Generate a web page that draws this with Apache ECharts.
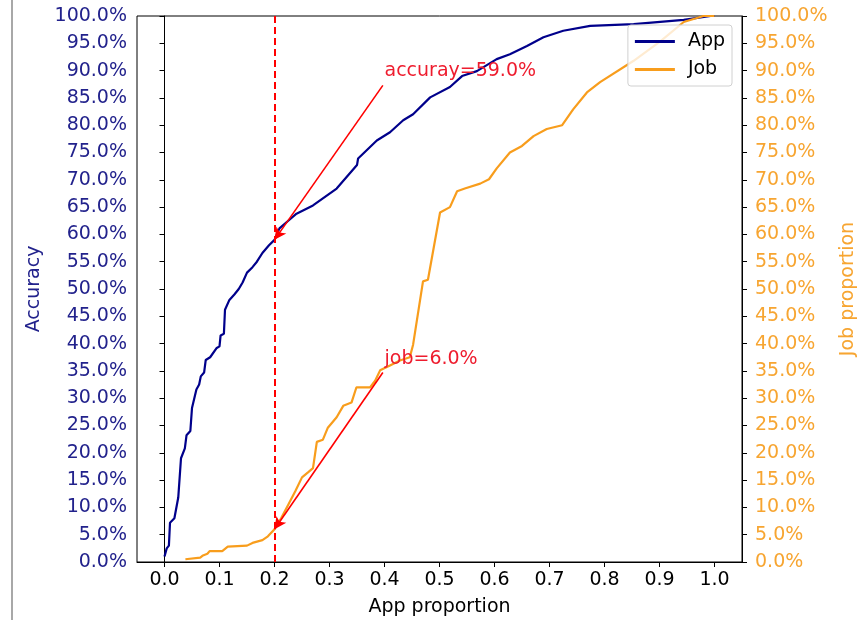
<!DOCTYPE html>
<html>
<head>
<meta charset="utf-8">
<script src="https://cdn.jsdelivr.net/npm/echarts@6/dist/echarts.min.js"></script>
<style>
  html, body { margin: 0; padding: 0; background: #fff; }
  #main { width: 861px; height: 620px; }
</style>
</head>
<body>
<div id="main"></div>
<script>
// App curve: app proportion -> accuracy
var appX = [0.000, 0.004, 0.008, 0.010, 0.018, 0.025, 0.028, 0.030, 0.037, 0.040, 0.047, 0.050, 0.058, 0.063, 0.066, 0.072, 0.075, 0.083, 0.095, 0.100, 0.102, 0.108, 0.110, 0.118, 0.127, 0.135, 0.142, 0.150, 0.160, 0.168, 0.178, 0.190, 0.200, 0.209, 0.225, 0.240, 0.270, 0.313, 0.350, 0.352, 0.386, 0.410, 0.434, 0.452, 0.483, 0.519, 0.541, 0.568, 0.604, 0.628, 0.659, 0.689, 0.725, 0.774, 0.853, 0.944, 0.993, 1.000];
var appY = [0.010, 0.025, 0.030, 0.072, 0.080, 0.118, 0.120, 0.190, 0.208, 0.232, 0.240, 0.282, 0.316, 0.325, 0.340, 0.347, 0.370, 0.375, 0.392, 0.395, 0.415, 0.418, 0.462, 0.480, 0.490, 0.500, 0.512, 0.530, 0.540, 0.550, 0.566, 0.580, 0.590, 0.611, 0.625, 0.638, 0.653, 0.684, 0.727, 0.739, 0.772, 0.787, 0.809, 0.820, 0.851, 0.870, 0.890, 0.899, 0.921, 0.930, 0.945, 0.961, 0.973, 0.982, 0.985, 0.993, 1.000, 1.000];

// Job curve: app proportion -> job proportion
var jobX = [0.038, 0.065, 0.070, 0.078, 0.082, 0.105, 0.115, 0.150, 0.160, 0.178, 0.188, 0.200, 0.212, 0.225, 0.238, 0.250, 0.262, 0.270, 0.277, 0.288, 0.297, 0.313, 0.325, 0.340, 0.349, 0.374, 0.383, 0.392, 0.410, 0.428, 0.446, 0.452, 0.470, 0.479, 0.501, 0.519, 0.532, 0.546, 0.574, 0.590, 0.604, 0.628, 0.650, 0.671, 0.695, 0.723, 0.743, 0.768, 0.792, 0.853, 0.902, 0.944, 0.980, 1.000];
var jobY = [0.005, 0.008, 0.012, 0.015, 0.020, 0.020, 0.028, 0.030, 0.035, 0.040, 0.047, 0.060, 0.080, 0.105, 0.130, 0.155, 0.165, 0.172, 0.220, 0.224, 0.246, 0.265, 0.286, 0.292, 0.320, 0.320, 0.332, 0.351, 0.360, 0.369, 0.375, 0.398, 0.514, 0.517, 0.640, 0.650, 0.679, 0.684, 0.693, 0.701, 0.721, 0.750, 0.762, 0.780, 0.793, 0.800, 0.829, 0.860, 0.879, 0.918, 0.954, 0.989, 1.000, 1.000];

var xTicks = [0, 0.1, 0.2, 0.3, 0.4, 0.5, 0.6, 0.7, 0.8, 0.9, 1.0];

// threshold and annotations
var cut = 0.2;
var accAtCut = 0.59;
var jobAtCut = 0.06;
var accText = [0.4, 0.899];
var jobText = [0.4, 0.372];
var accTail = [0.397, 0.873];
var jobTail = [0.397, 0.347];

var FONT = 'DejaVu Sans';
var FS = 19;
var BLUE = '#00008b';
var BLUE_TXT = '#22228c';
var ORANGE = '#f89d1c';
var ORANGE_TXT = '#f7a531';
var RED = '#ff0000';

function zip(a, b) {
  var out = [];
  for (var i = 0; i < a.length; i++) out.push([a[i], b[i]]);
  return out;
}
function pct(v) { return (v * 100).toFixed(1) + '%'; }

var myChart = echarts.init(document.getElementById('main'), null, {renderer: 'canvas'});

var yBase = {
  type: 'value', min: 0, max: 1, interval: 0.05,
  splitLine: {show: false},
  axisLine: {show: true, lineStyle: {color: '#000', width: 1}},
  axisTick: {show: true, length: 5, lineStyle: {color: '#000'}},
  nameLocation: 'middle', nameRotate: 90
};

function arrowLine(tail, head) {
  return [
    {coord: tail, symbol: 'none'},
    {coord: head, symbol: 'arrow', symbolSize: [9, 12]}
  ];
}

var option = {
  backgroundColor: '#fff',
  animation: false,
  textStyle: {fontFamily: FONT},
  grid: {
    left: 137, right: 119, top: 16, bottom: 58,
    outerBoundsMode: 'none', containLabel: false,
    show: true, borderColor: '#000', borderWidth: 1
  },
  legend: {
    orient: 'vertical', right: 129, top: 25,
    icon: 'rect', itemWidth: 40, itemHeight: 3, itemGap: 9,
    padding: [7, 7, 7, 7],
    backgroundColor: 'rgba(255,255,255,0.8)',
    borderColor: '#d0d0d0', borderWidth: 1, borderRadius: 3,
    textStyle: {fontFamily: FONT, fontSize: FS, color: '#000', padding: [0, 0, 0, 8]},
    data: ['App', 'Job']
  },
  xAxis: {
    type: 'value', min: -0.05, max: 1.05,
    name: 'App proportion', nameLocation: 'middle', nameGap: 36,
    nameTextStyle: {fontFamily: FONT, fontSize: FS, color: '#000'},
    splitLine: {show: false},
    axisLine: {show: true, onZero: false, lineStyle: {color: '#000'}},
    axisTick: {show: true, length: 5, customValues: xTicks, lineStyle: {color: '#000'}},
    axisLabel: {
      customValues: xTicks, margin: 9,
      fontFamily: FONT, fontSize: FS, color: '#000',
      formatter: function (v) { return v.toFixed(1); }
    }
  },
  yAxis: [
    Object.assign({}, yBase, {
      position: 'left', name: 'Accuracy', nameGap: 86,
      nameTextStyle: {fontFamily: FONT, fontSize: FS, color: BLUE_TXT},
      axisLabel: {margin: 10, fontFamily: FONT, fontSize: FS, color: BLUE_TXT, formatter: pct}
    }),
    Object.assign({}, yBase, {
      position: 'right', name: 'Job proportion', nameGap: 91,
      nameTextStyle: {fontFamily: FONT, fontSize: FS, color: ORANGE_TXT},
      axisLabel: {margin: 13, fontFamily: FONT, fontSize: FS, color: ORANGE_TXT, formatter: pct}
    })
  ],
  series: [
    {
      name: 'App', type: 'line', yAxisIndex: 0,
      symbol: 'none', smooth: false,
      lineStyle: {color: BLUE, width: 2.2}, itemStyle: {color: BLUE},
      data: zip(appX, appY),
      markLine: {
        silent: true, animation: false,
        symbol: ['none', 'none'],
        data: [
          {xAxis: cut, lineStyle: {color: RED, width: 2, type: [7, 4]}},
          arrowLine(accTail, [cut, accAtCut])
        ],
        lineStyle: {color: RED, width: 1.6, type: 'solid'},
        label: {show: false}
      },
      markPoint: {
        silent: true, symbol: 'circle', symbolSize: 0,
        data: [{coord: accText, value: 'accuray=' + pct(accAtCut)}],
        label: {show: true, position: 'right', distance: 0, fontFamily: FONT, fontSize: FS, color: '#ee1c2e',
          formatter: function (p) { return p.value; }}
      }
    },
    {
      name: 'Job', type: 'line', yAxisIndex: 1,
      symbol: 'none', smooth: false,
      lineStyle: {color: ORANGE, width: 2.2}, itemStyle: {color: ORANGE},
      data: zip(jobX, jobY),
      markLine: {
        silent: true, animation: false,
        symbol: ['none', 'none'],
        data: [arrowLine(jobTail, [cut, jobAtCut])],
        lineStyle: {color: RED, width: 1.6, type: 'solid'},
        label: {show: false}
      },
      markPoint: {
        silent: true, symbol: 'circle', symbolSize: 0,
        data: [{coord: jobText, value: 'job=' + pct(jobAtCut)}],
        label: {show: true, position: 'right', distance: 0, fontFamily: FONT, fontSize: FS, color: '#ee1c2e',
          formatter: function (p) { return p.value; }}
      }
    }
  ],
  graphic: [
    {type: 'line', shape: {x1: 12, y1: 0, x2: 12, y2: 620}, style: {stroke: '#a8a8a8', lineWidth: 2}, silent: true}
  ]
};

window.onresize = myChart.resize;
myChart.setOption(option);
</script>
</body>
</html>
